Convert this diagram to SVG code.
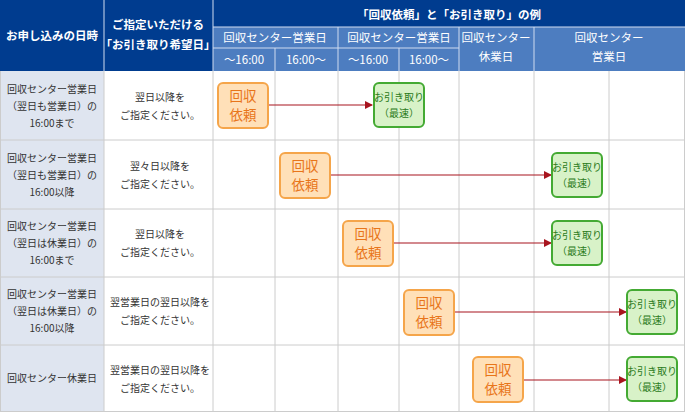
<svg xmlns="http://www.w3.org/2000/svg" width="685" height="412" viewBox="0 0 685 412">
<defs>
<style>
text{font-family:"Noto Sans CJK JP","Liberation Sans",sans-serif;text-anchor:middle}
.h{fill:#fff;font-size:11.5px;font-weight:bold}
.s{fill:#fff;font-size:11.5px}
.c{fill:#333;font-size:10px}
.o rect{fill:#ffe0b8;stroke:#f5a54a;stroke-width:2}
.o text{fill:#e8751a;font-size:13.5px}
.g rect{fill:#d8f2c8;stroke:#44aa33;stroke-width:2}
.g text{fill:#2a7a1a;font-size:10px}
.ln{stroke:#ccc;stroke-width:1}
.ar{stroke:#a8141e;stroke-width:1.2;marker-end:url(#m)}
</style>
<marker id="m" markerWidth="8" markerHeight="8" refX="7" refY="4" orient="auto" markerUnits="userSpaceOnUse"><path d="M0,0L8,4L0,8z" fill="#a8141e"/></marker>
</defs>
<rect width="685" height="412" fill="#fff"/>
<g id="header">
<rect x="0" y="0" width="685" height="71" fill="#003c8f"/>
<rect x="213" y="27" width="472" height="44" fill="#4d7dc0"/>
<g stroke="#d0dcf0" stroke-width="1">
<line x1="104" y1="0" x2="104" y2="71"/><line x1="213" y1="0" x2="213" y2="71"/>
<line x1="213" y1="27" x2="685" y2="27"/><line x1="213" y1="48" x2="459" y2="48"/>
<line x1="275" y1="48" x2="275" y2="71"/><line x1="338" y1="27" x2="338" y2="71"/>
<line x1="399" y1="48" x2="399" y2="71"/><line x1="459" y1="27" x2="459" y2="71"/>
<line x1="534" y1="27" x2="534" y2="71"/>
</g>
<text class="h" x="52" y="40">お申し込みの日時</text>
<text class="h" x="158" y="29">ご指定いただける</text>
<text class="h" x="158" y="49">「お引き取り希望日」</text>
<text class="h" x="449" y="19">「回収依頼」と「お引き取り」の例</text>
<text class="s" x="275" y="42">回収センター営業日</text>
<text class="s" x="399" y="42">回収センター営業日</text>
<text class="s" x="496" y="42">回収センター</text>
<text class="s" x="496" y="61">休業日</text>
<text class="s" x="609" y="42">回収センター</text>
<text class="s" x="609" y="61">営業日</text>
<text class="s" x="244" y="64">～16:00</text>
<text class="s" x="306" y="64">16:00～</text>
<text class="s" x="368" y="64">～16:00</text>
<text class="s" x="429" y="64">16:00～</text>
</g>
<g id="grid">
<rect x="0" y="71" width="104" height="341" fill="#dfe5f0"/>
<g class="ln">
<line x1="0" y1="140" x2="685" y2="140"/><line x1="0" y1="209" x2="685" y2="209"/>
<line x1="0" y1="277" x2="685" y2="277"/><line x1="0" y1="345" x2="685" y2="345"/>
<line x1="0" y1="411.5" x2="685" y2="411.5"/>
<line x1="104" y1="71" x2="104" y2="412"/><line x1="213" y1="71" x2="213" y2="412"/>
<line x1="275" y1="71" x2="275" y2="412"/><line x1="338" y1="71" x2="338" y2="412"/>
<line x1="399" y1="71" x2="399" y2="412"/><line x1="459" y1="71" x2="459" y2="412"/>
<line x1="534" y1="71" x2="534" y2="412"/><line x1="609" y1="71" x2="609" y2="412"/>
<line x1="684.5" y1="71" x2="684.5" y2="412"/><line x1="0.5" y1="71" x2="0.5" y2="412"/>
</g>
</g>
<g id="rowlabels">
<text class="c" x="52" y="93">回収センター営業日</text><text class="c" x="52" y="110">（翌日も営業日）の</text><text class="c" x="52" y="127">16:00まで</text>
<text class="c" x="52" y="162">回収センター営業日</text><text class="c" x="52" y="179">（翌日も営業日）の</text><text class="c" x="52" y="196">16:00以降</text>
<text class="c" x="52" y="230">回収センター営業日</text><text class="c" x="52" y="247">（翌日は休業日）の</text><text class="c" x="52" y="264">16:00まで</text>
<text class="c" x="52" y="298">回収センター営業日</text><text class="c" x="52" y="315">（翌日は休業日）の</text><text class="c" x="52" y="332">16:00以降</text>
<text class="c" x="52" y="382">回収センター休業日</text>
<text class="c" x="160" y="101">翌日以降を</text><text class="c" x="160" y="119">ご指定ください。</text>
<text class="c" x="160" y="170">翌々日以降を</text><text class="c" x="160" y="188">ご指定ください。</text>
<text class="c" x="160" y="238">翌日以降を</text><text class="c" x="160" y="256">ご指定ください。</text>
<text class="c" x="160" y="306">翌営業日の翌日以降を</text><text class="c" x="160" y="324">ご指定ください。</text>
<text class="c" x="160" y="374">翌営業日の翌日以降を</text><text class="c" x="160" y="392">ご指定ください。</text>
</g>
<g id="connectors">
<line class="ar" x1="269" y1="105" x2="372" y2="105"/>
<line class="ar" x1="331" y1="175" x2="551" y2="175"/>
<line class="ar" x1="394" y1="243" x2="551" y2="243"/>
<line class="ar" x1="455" y1="312" x2="626" y2="312"/>
<line class="ar" x1="524" y1="380" x2="626" y2="380"/>
</g>
<g id="r1o" class="o"><rect x="218" y="83" width="50" height="45" rx="5"/><text x="243" y="101">回収</text><text x="243" y="120">依頼</text></g>
<g id="r1g" class="g"><rect x="374" y="83" width="50" height="44" rx="5"/><text x="399" y="101">お引き取り</text><text x="399" y="117">（最速）</text></g>
<g id="r2o" class="o"><rect x="280" y="153" width="50" height="45" rx="5"/><text x="305" y="171">回収</text><text x="305" y="190">依頼</text></g>
<g id="r2g" class="g"><rect x="552" y="153" width="50" height="44" rx="5"/><text x="577" y="171">お引き取り</text><text x="577" y="187">（最速）</text></g>
<g id="r3o" class="o"><rect x="343" y="221" width="50" height="45" rx="5"/><text x="368" y="239">回収</text><text x="368" y="258">依頼</text></g>
<g id="r3g" class="g"><rect x="552" y="221" width="50" height="44" rx="5"/><text x="577" y="239">お引き取り</text><text x="577" y="255">（最速）</text></g>
<g id="r4o" class="o"><rect x="404" y="290" width="50" height="45" rx="5"/><text x="429" y="308">回収</text><text x="429" y="327">依頼</text></g>
<g id="r4g" class="g"><rect x="627" y="290" width="50" height="44" rx="5"/><text x="652" y="308">お引き取り</text><text x="652" y="324">（最速）</text></g>
<g id="r5o" class="o"><rect x="473" y="357" width="50" height="45" rx="5"/><text x="498" y="375">回収</text><text x="498" y="394">依頼</text></g>
<g id="r5g" class="g"><rect x="627" y="357" width="50" height="44" rx="5"/><text x="652" y="375">お引き取り</text><text x="652" y="391">（最速）</text></g>
</svg>
